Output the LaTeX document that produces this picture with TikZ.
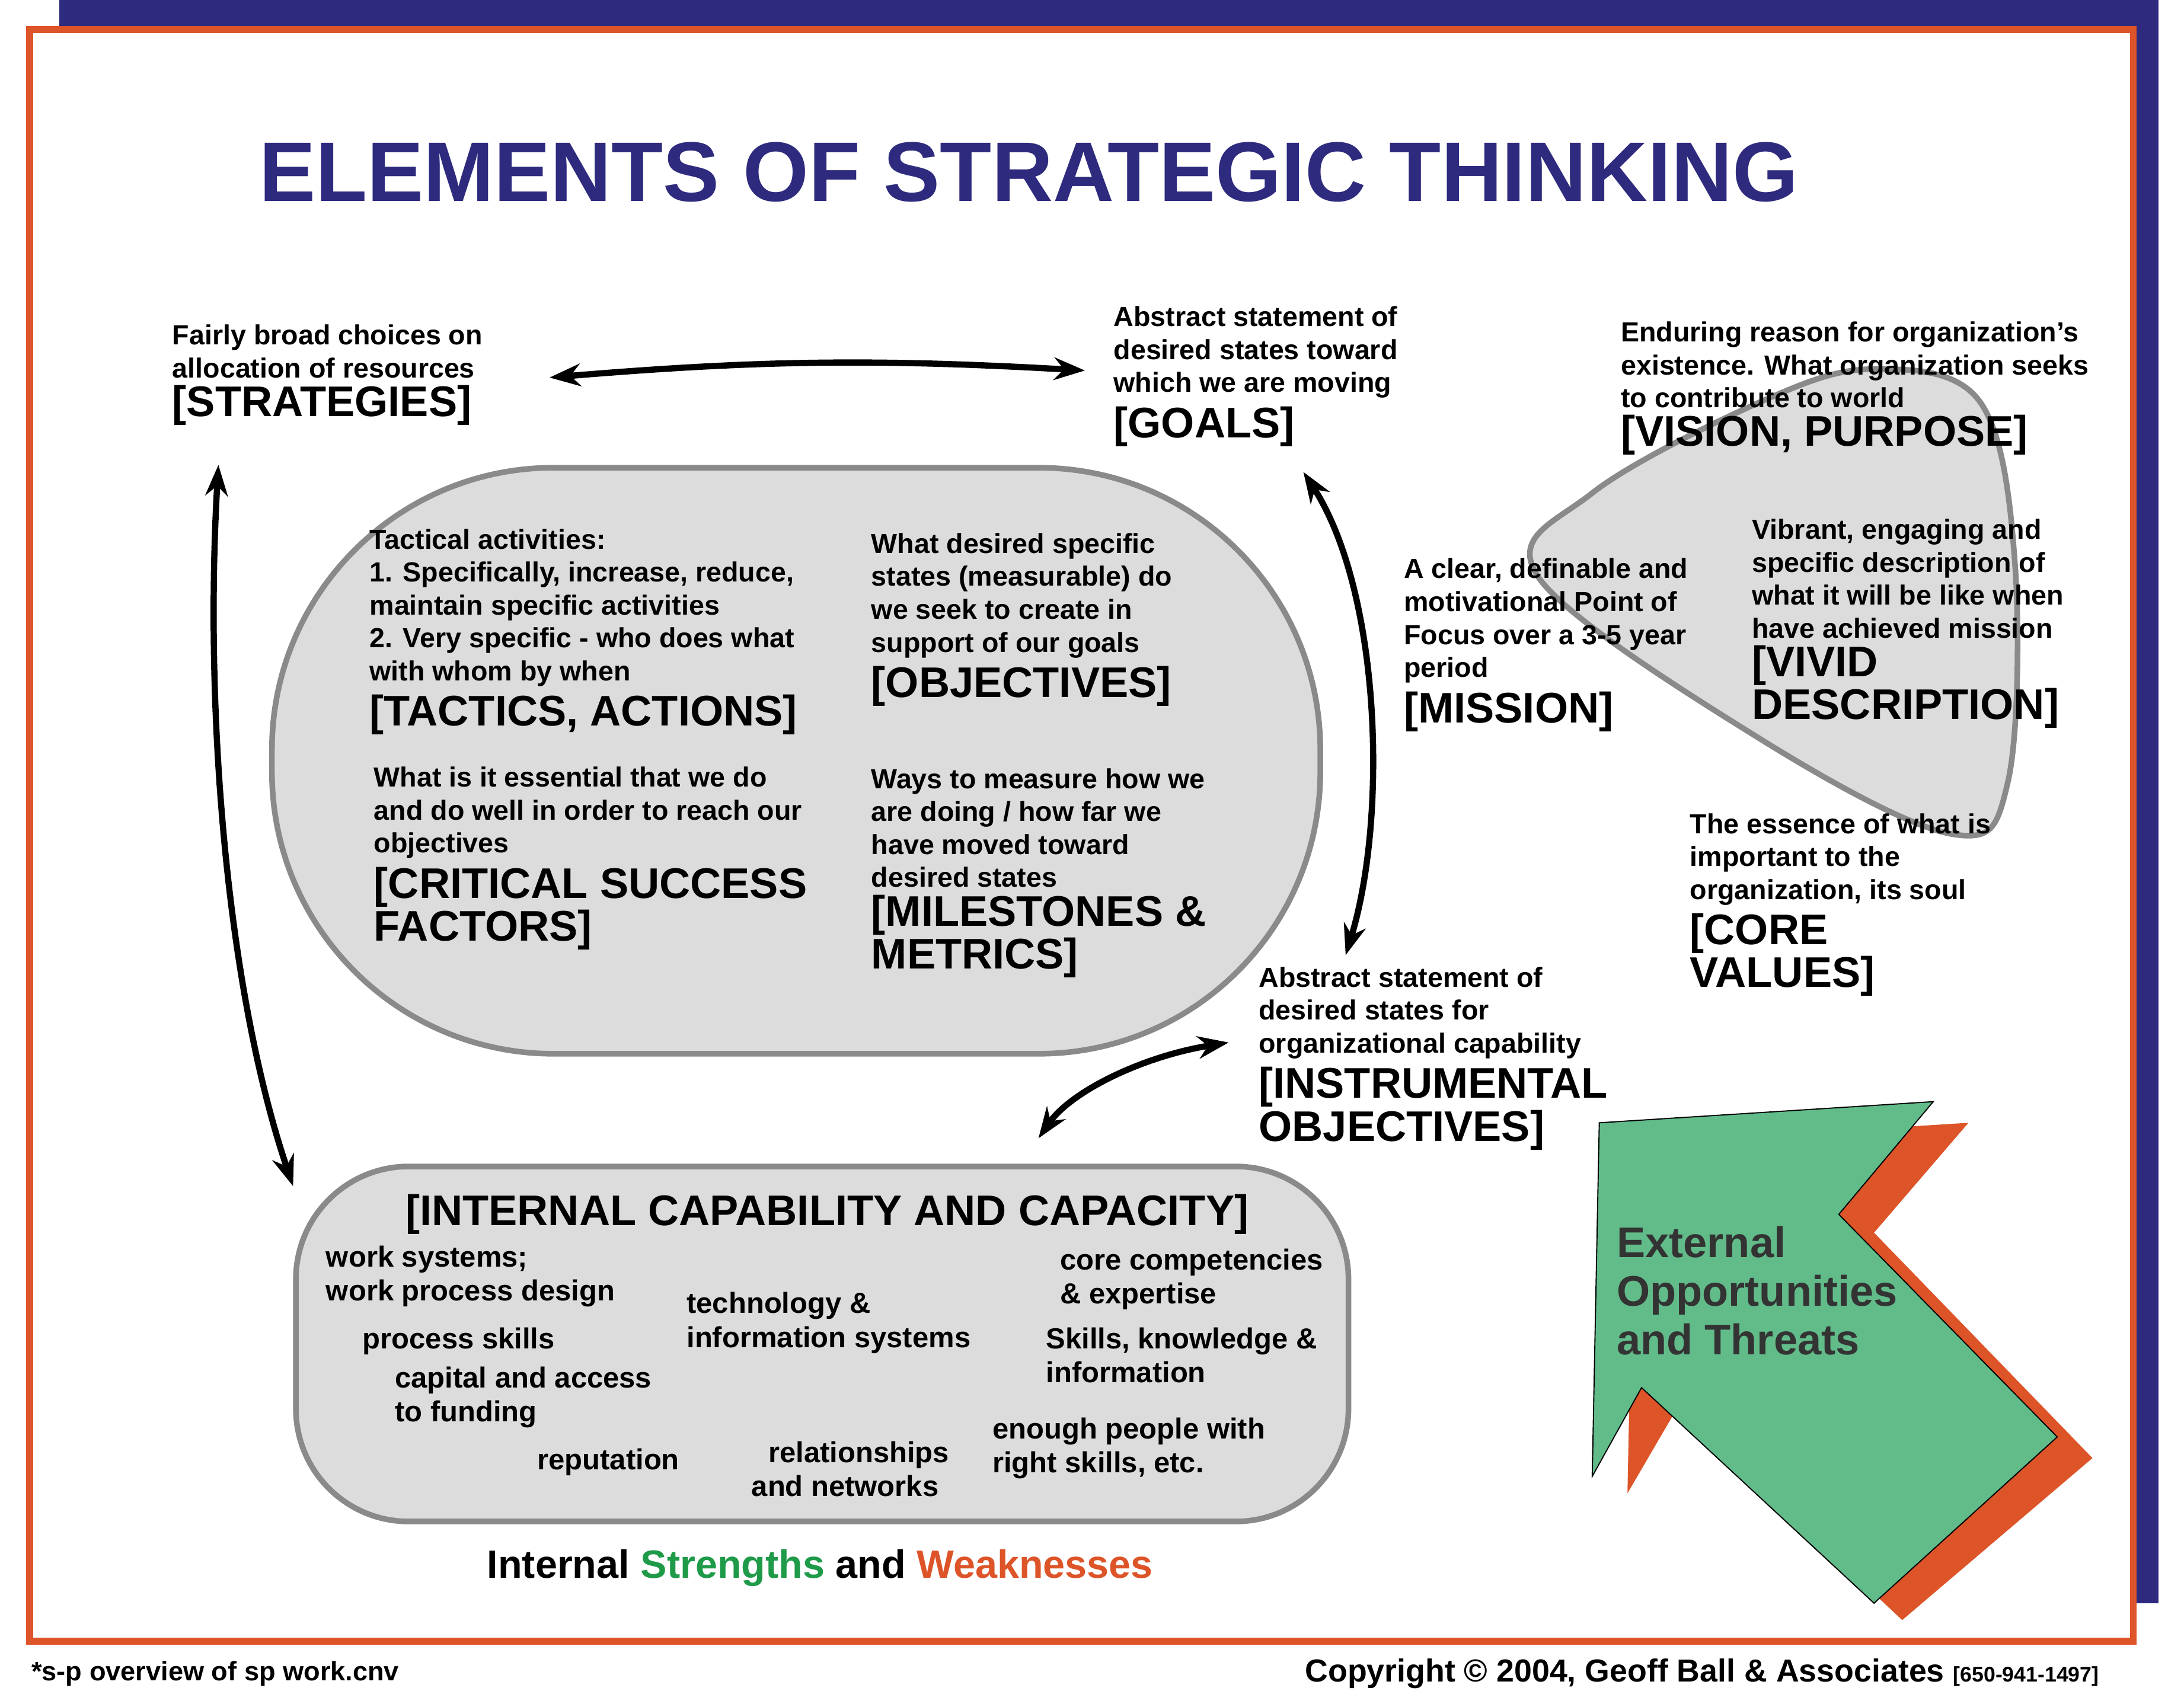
\documentclass[tikz,border=0pt]{standalone}
\usepackage{fontspec}
\setmainfont{Liberation Sans}
\usetikzlibrary{arrows.meta}
\definecolor{navy}{HTML}{2E2A7E}
\definecolor{org}{HTML}{DD5428}
\definecolor{grn}{HTML}{62BC8A}
\definecolor{sgrn}{HTML}{1E9A48}
\definecolor{boxg}{HTML}{DCDCDC}
\definecolor{boxl}{HTML}{8A8A8A}
\newcommand{\sm}{\fontsize{9.8}{11.7}\selectfont\bfseries}
\newcommand{\blf}{\fontsize{15.2}{17.3}\selectfont\bfseries}
\tikzset{txt/.style={anchor=north west,inner sep=0pt,align=left,font=\sm},
 dbl/.style={{Stealth[length=11pt,width=8pt]}-{Stealth[length=11pt,width=8pt]},line width=2.2pt},
 gbox/.style={fill=boxg,draw=boxl,line width=2pt}}
\begin{document}
\begin{tikzpicture}[x=0.5pt,y=-0.5pt]
\useasboundingbox (0,0) rectangle (1550,1200);
\fill[navy] (42,0) rectangle (1532,1138);
\draw[org,fill=white,line width=2.5pt] (21,21) rectangle (1514,1165);
\node[font=\fontsize{30}{34}\selectfont\bfseries,text=navy,inner sep=0pt] (title) at (730,122) {ELEMENTS OF STRATEGIC THINKING};
% gray boxes
\draw[gbox,rounded corners=100pt] (193,332) rectangle (937,748);
\draw[gbox,rounded corners=40pt] (210,828) rectangle (957,1080);
\draw[gbox] plot[smooth cycle,tension=0.6] coordinates {(1330,262)(1405,285)(1430,400)(1425,555)(1385,592)(1250,525)(1092,410)(1130,350)(1250,285)};
% arrow shape
\fill[org] (1160,812)--(1397,797)--(1330,875)--(1485,1035)--(1350,1150)--(1190,1000)--(1155,1060)--cycle;
\filldraw[fill=grn,draw=black,line width=0.4pt] (1135,797)--(1372,782)--(1305,862)--(1460,1020)--(1330,1138)--(1165,985)--(1130,1048)--cycle;
\node[txt,font=\fontsize{15.2}{17.3}\selectfont\bfseries,text=black!80] (ext) at (1147,870) {External\\Opportunities\\and Threats};
% texts
\node[txt] (strat) at (122,230) {Fairly broad choices on\\allocation of resources\\[2pt]\blf [STRATEGIES]};
\node[txt] (goals) at (790,217) {Abstract statement of\\desired states toward\\which we are moving\\[2pt]\blf [GOALS]};
\node[txt] (vision) at (1150,228) {Enduring reason for organization's\\existence. What organization seeks\\to contribute to world\\[2pt]\blf [VISION, PURPOSE]};
\node[txt] (tact) at (262,375) {Tactical activities:\\1. Specifically, increase, reduce,\\maintain specific activities\\2. Very specific - who does what\\with whom by when\\[2pt]\blf [TACTICS, ACTIONS]};
\node[txt] (obj) at (618,378) {What desired specific\\states (measurable) do\\we seek to create in\\support of our goals\\[2pt]\blf [OBJECTIVES]};
\node[txt] (csf) at (265,544) {What is it essential that we do\\and do well in order to reach our\\objectives\\[2pt]\blf [CRITICAL SUCCESS\\\blf FACTORS]};
\node[txt] (mil) at (618,545) {Ways to measure how we\\are doing / how far we\\have moved toward\\desired states\\[2pt]\blf [MILESTONES \&\\\blf METRICS]};
\node[txt] (mis) at (996,396) {A clear, definable and\\motivational Point of\\Focus over a 3-5 year\\period\\[2pt]\blf [MISSION]};
\node[txt] (viv) at (1243,368) {Vibrant, engaging and\\specific description of\\what it will be like when\\have achieved mission\\[2pt]\blf [VIVID\\\blf DESCRIPTION]};
\node[txt] (core) at (1199,577) {The essence of what is\\important to the\\organization, its soul\\[2pt]\blf [CORE\\\blf VALUES]};
\node[txt] (inst) at (893,686) {Abstract statement of\\desired states for\\organizational capability\\[2pt]\blf [INSTRUMENTAL\\\blf OBJECTIVES]};
% internal box
\node[font=\fontsize{15.2}{17.3}\selectfont\bfseries,inner sep=0pt] (ict) at (587,862) {[INTERNAL CAPABILITY AND CAPACITY]};
\tikzset{itm/.style={txt,font=\fontsize{10.3}{12}\selectfont\bfseries}}
\node[itm] (i1) at (231,884) {work systems;\\work process design};
\node[itm] (i2) at (257,942) {process skills};
\node[itm] (i3) at (280,970) {capital and access\\to funding};
\node[itm] (i4) at (381,1028) {reputation};
\node[itm] (i5) at (487,917) {technology \&\\information systems};
\node[itm] (i6) at (533,1023) {\hspace*{6pt}relationships\\and networks};
\node[itm] (i7) at (752,886) {core competencies\\\& expertise};
\node[itm] (i8) at (742,942) {Skills, knowledge \&\\information};
\node[itm] (i9) at (704,1006) {enough people with\\right skills, etc.};
\node[font=\fontsize{14}{16}\selectfont\bfseries,inner sep=0pt] (sw) at (582,1113) {Internal \textcolor{sgrn}{Strengths} and \textcolor{org}{Weaknesses}};
\node[anchor=west,font=\fontsize{9.5}{11}\selectfont\bfseries,inner sep=0pt] (f1) at (22,1188) {*s-p overview of sp work.cnv};
\node[anchor=east,font=\fontsize{11.3}{13}\selectfont\bfseries,inner sep=0pt] (f2) at (1490,1188) {Copyright © 2004, Geoff Ball \& Associates {\fontsize{7.5}{9}\selectfont [650-941-1497]}};
% arrows
\coordinate (a1) at (390,268); \coordinate (a2) at (770,263);
\draw[dbl] (a1) to[bend left=4] (a2);
\coordinate (b1) at (155,330); \coordinate (b2) at (208,842);
\draw[dbl] (b1) .. controls (145,500) and (160,700) .. (b2);
\coordinate (c1) at (925,335); \coordinate (c2) at (955,678);
\draw[dbl] (c1) .. controls (980,420) and (985,580) .. (c2);
\coordinate (d1) at (872,740); \coordinate (d2) at (737,808);
\draw[dbl] (d1) .. controls (810,750) and (760,775) .. (d2);
\end{tikzpicture}
\end{document}
